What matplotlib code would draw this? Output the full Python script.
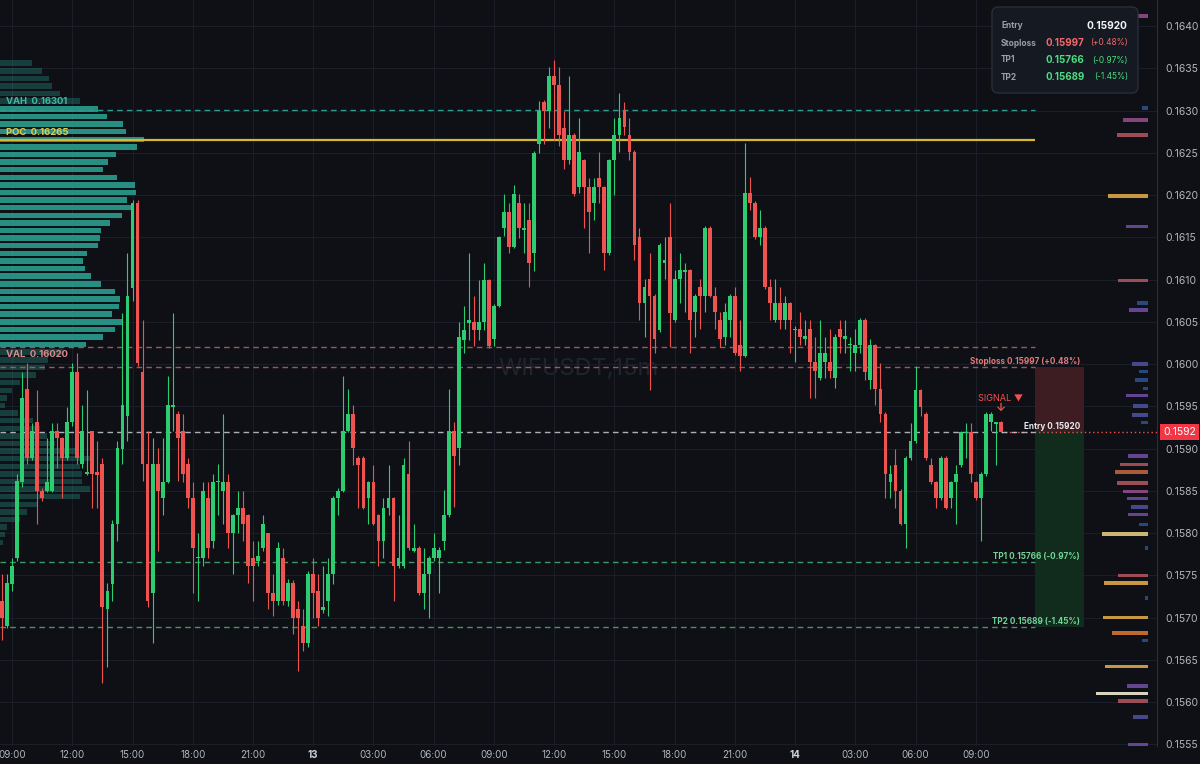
import numpy as np
import matplotlib
matplotlib.use("Agg")
import matplotlib.pyplot as plt
from matplotlib.patches import Rectangle, FancyBboxPatch
from matplotlib import transforms

plt.rcParams['font.family'] = ['Inter', 'DejaVu Sans']

# ---------------- data (prices x 1e5) ----------------
opens_e5 = [15720,15690,15740,15771,15860,15971,15889,15931,15850,15850,15850,15921,15912,15889,15931,15990,15882,15870,15921,15872,
            15882,15710,15740,15811,15900,15939,16090,16190,15990,15882,15729,15882,15841,15860,15949,15941,15921,15882,15841,15770,
            15771,15841,15791,15860,15850,15860,15800,15821,15830,15821,15771,15767,15782,15800,15729,15720,15771,15720,15741,15710,
            15690,15670,15752,15732,15709,15720,15752,15841,15850,15921,15941,15889,15889,15841,15860,15821,15791,15830,15841,15761,
            15761,15870,15779,15782,15729,15752,15771,15771,15791,15821,15921,15901,16029,16049,16050,16040,16050,16099,16030,16069,
            16161,16180,16139,16190,16159,16170,16131,16260,16310,16300,16341,16330,16279,16241,16271,16209,16241,16209,16190,16220,
            16209,16131,16241,16271,16300,16271,16251,16150,16072,16101,16081,16040,16120,16150,16052,16101,16109,16111,16061,16091,
            16081,16161,16081,16052,16032,16052,16081,16022,16010,16202,16191,16150,16161,16091,16052,16072,16052,16072,16040,16042,
            16030,16042,16002,15983,16002,16002,15983,16042,16030,16022,16013,16022,16052,15981,16022,15971,15941,15860,15880,15850,
            15811,15889,15909,15969,15941,15880,15860,15841,15889,15841,15860,15880,15918,15919,15860,15841,15870,15931,15929,15931]
highs_e5 = [15752,15752,15771,15870,15990,16001,15930,15969,15853,15913,15930,15930,15914,15949,16001,16013,15951,15969,15921,15909,
            15889,15741,15815,15909,16060,16131,16194,16194,16052,15921,15912,15901,15912,15986,16060,15945,15941,15889,15860,15800,
            15860,15860,15870,15882,15941,15870,15823,15850,15850,15823,15791,15791,15821,15800,15752,15790,15782,15746,15745,15720,
            15710,15755,15770,15752,15761,15771,15844,15853,15986,15971,15951,15891,15891,15862,15880,15823,15841,15880,15843,15821,
            15889,15909,15811,15785,15782,15773,15800,15783,15851,15970,15931,16050,16069,16131,16080,16099,16120,16101,16071,16152,
            16201,16190,16212,16201,16190,16190,16252,16311,16312,16351,16360,16351,16300,16341,16273,16291,16243,16220,16220,16251,
            16211,16243,16291,16321,16310,16291,16253,16161,16101,16131,16083,16143,16150,16190,16111,16131,16120,16113,16083,16101,
            16163,16163,16091,16061,16072,16083,16091,16052,16261,16221,16193,16182,16163,16101,16101,16091,16081,16074,16045,16061,
            16052,16052,16032,16052,16032,16042,16035,16052,16052,16032,16042,16055,16055,16030,16024,16001,15943,15880,15900,15852,
            15891,15930,15998,15971,15943,15889,15862,15891,15891,15862,15880,15921,15930,15930,15862,15872,15943,15943,15932,15933]
lows_e5 = [15673,15688,15732,15767,15854,15882,15886,15811,15838,15848,15848,15877,15841,15886,15927,15882,15877,15869,15830,15830,
           15622,15641,15720,15791,15882,15909,16075,15998,15862,15712,15670,15779,15821,15859,15921,15862,15860,15830,15729,15720,
           15761,15771,15782,15821,15811,15782,15752,15800,15791,15741,15720,15761,15779,15710,15702,15715,15715,15714,15681,15637,
           15661,15665,15700,15690,15705,15702,15740,15821,15848,15919,15880,15830,15828,15811,15809,15761,15771,15821,15720,15759,
           15759,15780,15777,15727,15710,15700,15767,15729,15780,15819,15831,15881,16013,16029,16021,16029,16040,16019,16021,16067,
           16152,16131,16137,16149,16131,16091,16110,16250,16260,16279,16265,16258,16231,16237,16199,16202,16161,16131,16170,16190,
           16111,16129,16200,16251,16271,16241,16123,16052,16032,15969,16013,16038,16101,16020,16050,16072,16061,16013,16032,16042,
           16061,16079,16042,16020,16022,16032,16011,15992,16008,16182,16148,16141,16089,16052,16050,16042,16042,16013,16002,16022,
           16022,15960,15960,15981,15983,15983,15972,16013,16013,15992,15992,16013,15981,15971,15951,15931,15841,15841,15830,15809,
           15782,15887,15907,15939,15887,15858,15830,15839,15828,15830,15811,15878,15889,15860,15839,15791,15868,15921,15880,15920]
closes_e5 = [15700,15741,15761,15862,15960,15889,15921,15850,15841,15860,15921,15912,15889,15931,15990,15889,15921,15872,15870,15869,
             15712,15732,15811,15901,15951,16081,16190,16001,15882,15720,15882,15850,15860,15951,15951,15912,15870,15841,15782,15772,
             15850,15782,15860,15861,15860,15800,15821,15830,15811,15761,15761,15773,15811,15729,15720,15782,15720,15741,15700,15700,
             15670,15752,15729,15700,15712,15752,15841,15850,15921,15941,15901,15880,15830,15860,15811,15791,15830,15841,15761,15771,
             15880,15782,15782,15729,15752,15771,15782,15780,15821,15921,15891,16032,16040,16052,16040,16050,16099,16021,16069,16150,
             16180,16139,16201,16161,16161,16120,16250,16300,16300,16341,16330,16271,16241,16271,16201,16251,16209,16180,16209,16209,
             16131,16241,16271,16291,16280,16251,16141,16072,16091,16081,16030,16141,16123,16060,16101,16111,16111,16052,16081,16081,
             16161,16081,16061,16030,16061,16081,16013,16010,16202,16191,16150,16161,16091,16072,16072,16052,16072,16052,16042,16032,
             16033,16002,15992,16013,16013,15992,16032,16032,16033,16024,16022,16052,15990,16022,15971,15941,15870,15870,15850,15811,
             15889,15909,15969,15949,15889,15860,15841,15889,15830,15860,15870,15919,15920,15870,15841,15870,15941,15941,15931,15920]

time_tick_index = [2, 14, 26, 38, 50, 62, 74, 86, 98, 110, 122, 134, 146, 158, 170, 182, 194]
time_tick_labels = ['09:00', '12:00', '15:00', '18:00', '21:00', '13', '03:00', '06:00', '09:00',
                    '12:00', '15:00', '18:00', '21:00', '14', '03:00', '06:00', '09:00']
day_labels = ['13', '14']

vah, poc, val = 0.16301, 0.16265, 0.16020
entry, stoploss, tp1, tp2 = 0.15920, 0.15997, 0.15766, 0.15689
last_price = 0.1592
symbol_label = 'WIFUSDT,15m'

# volume profile rows (top -> bottom)
profile_top, profile_bottom = 0.16356, 0.15789
profile_volume = [32, 42, 49, 52, 60, 80, 98, 107, 123, 126, 144, 137, 116, 108, 103, 117, 135, 136, 127, 131,
                  122, 110, 101, 100, 98, 87, 83, 85, 91, 101, 115, 120, 119, 112, 123, 115, 103, 86, 63, 48,
                  45, 36, 20, 12, 7, 5, 18, 33, 40, 47, 55, 77, 92, 80, 82, 82, 90, 80, 37, 27, 20, 7, 5, 3]

# right-side order book liquidity
book_prices = [0.16412, 0.16303, 0.16289, 0.16271, 0.16199, 0.16163, 0.16099, 0.16072, 0.16064, 0.16000,
               0.15991, 0.15981, 0.15971, 0.15963, 0.15950, 0.15940, 0.15931, 0.15891, 0.15881, 0.15872,
               0.15859, 0.15849, 0.15841, 0.15831, 0.15822, 0.15810, 0.15799, 0.15782, 0.15750, 0.15741,
               0.15723, 0.15700, 0.15682, 0.15673, 0.15642, 0.15619, 0.15610, 0.15601, 0.15582, 0.15550]
book_sizes = [23, 6, 25, 31, 40, 22, 30, 11, 19, 16, 9, 13, 5, 22, 15, 16, 7, 20, 28, 33,
              31, 25, 21, 17, 20, 9, 46, 3, 30, 44, 3, 45, 36, 6, 43, 21, 52, 30, 15, 20]
book_levels = [3, 0, 3, 4, 7, 2, 4, 0, 2, 1, 0, 0, 0, 2, 1, 1, 0, 2, 4, 5,
               4, 3, 2, 1, 2, 0, 8, 0, 4, 7, 0, 7, 6, 0, 7, 2, 9, 4, 1, 2]

# ---------------- style ----------------
BG = '#0e1016'
GRID = '#1a1e28'
GREEN = '#2ecc71'
RED = '#ef5350'
TXT = '#b2b5be'
level_colors = ['#2b4f86', '#4a4f96', '#6b4a9c', '#8f4a86', '#a8525a', '#b8623e', '#cf7230', '#d8a545', '#dcc67a', '#ece6cc']

W, H = 1200, 764
fig = plt.figure(figsize=(W / 100, H / 100), dpi=100, facecolor=BG)
ax = fig.add_axes([0, 18 / H, 1157 / W, 746 / H])
ax.set_facecolor(BG)

o = np.array(opens_e5) / 1e5
h = np.array(highs_e5) / 1e5
l = np.array(lows_e5) / 1e5
c = np.array(closes_e5) / 1e5
idx = np.arange(len(o))

x_left, x_right = -0.4, 230.1
ax.set_xlim(x_left, x_right)
ax.set_ylim(0.15548, 0.164308)
px_y = (0.164308 - 0.15548) / 746.0   # price per pixel
px_x = (x_right - x_left) / 1157.0    # index per pixel

# grid / ticks
yt = np.round(np.arange(0.1555, 0.16401, 0.0005), 4)
ax.set_yticks(yt)
ax.set_yticklabels([f"{v:.4f}" for v in yt])
ax.yaxis.tick_right()
ax.set_xticks(time_tick_index)
ax.set_xticklabels(time_tick_labels)
ax.tick_params(axis='y', length=0, pad=6, labelsize=7.5, labelcolor=TXT)
ax.tick_params(axis='x', length=0, pad=3, labelsize=7.0, labelcolor=TXT)
for t in ax.get_xticklabels():
    if t.get_text() in day_labels:
        t.set_fontweight('bold')
        t.set_color('#d1d4dc')
ax.grid(True, color=GRID, lw=0.8)
ax.set_axisbelow(True)
for s in ['top', 'left', 'bottom']:
    ax.spines[s].set_visible(False)
ax.spines['right'].set_color('#2a2e39')

# watermark
ax.text(0.5, 0.505, symbol_label, transform=ax.transAxes, ha='center', va='center',
        fontsize=17, color='#20242e', zorder=0.5)

# volume profile
n_rows = len(profile_volume)
row_prices = np.linspace(profile_top, profile_bottom, n_rows)
row_step = (profile_top - profile_bottom) / (n_rows - 1)
pv = np.array(profile_volume, dtype=float)
widths = pv / pv.max() * (144 * px_x)
in_va = (row_prices >= val + 0.00003) & (row_prices <= vah + 0.00003)
ax.barh(row_prices[in_va], widths[in_va], left=x_left, height=row_step * 0.72,
        color='#2a9d8f', alpha=0.9, zorder=1, linewidth=0)
ax.barh(row_prices[~in_va], widths[~in_va], left=x_left, height=row_step * 0.72,
        color='#2a9d8f', alpha=0.33, zorder=1, linewidth=0)

# right side liquidity bars
book_right = x_left + 1148 * px_x
bw = np.array(book_sizes) * px_x
ax.barh(book_prices, bw, left=book_right - bw, height=3.6 * px_y,
        color=[level_colors[k] for k in book_levels], zorder=2, linewidth=0, alpha=0.92)

# level lines
line_end = x_left + 1035 * px_x
dash = (0, (4, 3))
ax.hlines(vah, x_left, line_end, colors='#2a9d8f', lw=1.0, linestyles=dash, zorder=2)
ax.hlines(poc, x_left, line_end, colors='#d6b92e', lw=1.6, zorder=2)
ax.hlines(val, x_left, line_end, colors='#b85a5e', lw=1.0, linestyles=dash, zorder=2, alpha=0.9)
ax.hlines(stoploss, x_left, line_end, colors='#b85a5e', lw=1.0, linestyles=dash, zorder=2, alpha=0.9)
ax.hlines(tp1, x_left, line_end, colors='#3c9a62', lw=1.0, linestyles=dash, zorder=2)
ax.hlines(tp2, x_left, line_end, colors='#3c9a62', lw=1.0, linestyles=dash, zorder=2)
ax.hlines(last_price, idx[-1], x_right, colors='#ef5350', lw=1.0, linestyles=(0, (1, 2)), zorder=2)
ax.hlines(entry, x_left, line_end, colors='#c9ccd4', lw=1.0, linestyles=dash, zorder=2, alpha=0.85)

# risk/reward boxes
box_w = 49 * px_x
ax.add_patch(Rectangle((line_end, entry), box_w, stoploss - entry, fc='#3d1d22', ec='none', zorder=1.5))
ax.add_patch(Rectangle((line_end, tp2), box_w, entry - tp2, fc='#112c1d', ec='none', zorder=1.5))

# candles
col = np.where(c >= o, GREEN, RED)
ax.vlines(idx, l, h, colors=col, lw=0.8, zorder=3)
body = np.maximum(np.abs(c - o), 1.3 * px_y)
ax.bar(idx, body, bottom=np.minimum(o, c), width=0.76, color=col, zorder=4, linewidth=0)

# level labels (left)
lab_x = x_left + 6 * px_x
ax.annotate(f"VAH  {vah:.5f}", (lab_x, vah), xytext=(0, 5.8), textcoords='offset points',
            ha='left', va='center', fontsize=6.8, color='#3fb8a6', fontweight='bold', zorder=6)
ax.annotate(f"POC  {poc:.5f}", (lab_x, poc), xytext=(0, 5.8), textcoords='offset points',
            ha='left', va='center', fontsize=6.8, color='#e3cb4c', fontweight='bold', zorder=6)
ax.annotate(f"VAL  {val:.5f}", (lab_x, val), xytext=(0, -5.0), textcoords='offset points',
            ha='left', va='center', fontsize=6.8, color='#d98a8a', fontweight='bold', zorder=6)

# trade labels (right)
def pct(p):
    return (p / entry - 1) * 100

tr_x = x_left + 1080 * px_x
ax.annotate(f"Stoploss {stoploss:.5f} ({pct(stoploss):+.2f}%)", (tr_x, stoploss), xytext=(0, 3.8),
            textcoords='offset points', ha='right', va='center', fontsize=5.9, color='#e07a7a',
            fontweight='bold', zorder=6)
ax.annotate(f"Entry {entry:.5f}", (tr_x, entry), xytext=(0, 3.8), textcoords='offset points',
            ha='right', va='center', fontsize=5.9, color='#e8e9ec', fontweight='bold', zorder=6)
ax.annotate(f"TP1 {tp1:.5f} ({pct(tp1):+.2f}%)", (tr_x, tp1), xytext=(0, 3.8), textcoords='offset points',
            ha='right', va='center', fontsize=5.9, color='#72d494', fontweight='bold', zorder=6)
ax.annotate(f"TP2 {tp2:.5f} ({pct(tp2):+.2f}%)", (tr_x, tp2), xytext=(0, 3.8), textcoords='offset points',
            ha='right', va='center', fontsize=5.9, color='#72d494', fontweight='bold', zorder=6)

# signal marker on last candle
ax.annotate("SIGNAL \u25BC", (idx[-1], h[-1]), xytext=(0, 16.5), textcoords='offset points',
            ha='center', va='center', fontsize=6.6, color='#f0524f', zorder=6)
ax.annotate("\u2193", (idx[-1], h[-1]), xytext=(0, 9.0), textcoords='offset points',
            ha='center', va='center', fontsize=8, color='#f0524f', fontweight='bold', zorder=6)

# last price tag
trans = transforms.blended_transform_factory(ax.transAxes, ax.transData)
ax.annotate(f"{last_price:.4f}", (1.0, last_price), xycoords=trans, xytext=(4.5, 0),
            textcoords='offset points', ha='left', va='center', fontsize=7.5, color='white',
            annotation_clip=False, zorder=10,
            bbox=dict(boxstyle='square,pad=0.3', fc='#f23645', ec='none'))

# legend box (pixel overlay)
ov = fig.add_axes([0, 0, 1, 1])
ov.set_xlim(0, W)
ov.set_ylim(H, 0)
ov.axis('off')
ov.patch.set_alpha(0)
ov.add_patch(FancyBboxPatch((992, 7), 146, 86, boxstyle='round,pad=0,rounding_size=6',
                            fc='#151922', ec='#2b303b', lw=0.9, zorder=5))
rows = [("Entry", f"{entry:.5f}", None, '#f2f3f5'),
        ("Stoploss", f"{stoploss:.5f}", f"({pct(stoploss):+.2f}%)", '#f06a6a'),
        ("TP1", f"{tp1:.5f}", f"({pct(tp1):+.2f}%)", '#4ade80'),
        ("TP2", f"{tp2:.5f}", f"({pct(tp2):+.2f}%)", '#4ade80')]
for k, (name, v, p, colr) in enumerate(rows):
    yy = 26 + k * 17
    ov.text(1001, yy, name, ha='left', va='center', fontsize=6.0, color='#9aa0aa', fontweight='bold', zorder=6)
    if p is None:
        ov.text(1127, yy, v, ha='right', va='center', fontsize=7.3, color=colr, fontweight='bold', zorder=6)
    else:
        ov.text(1045, yy, v, ha='left', va='center', fontsize=7.0, color=colr, fontweight='bold', zorder=6)
        ov.text(1128, yy, p, ha='right', va='center', fontsize=6.0, color=colr, zorder=6)

fig.savefig('out.png', dpi=100, facecolor=BG)
